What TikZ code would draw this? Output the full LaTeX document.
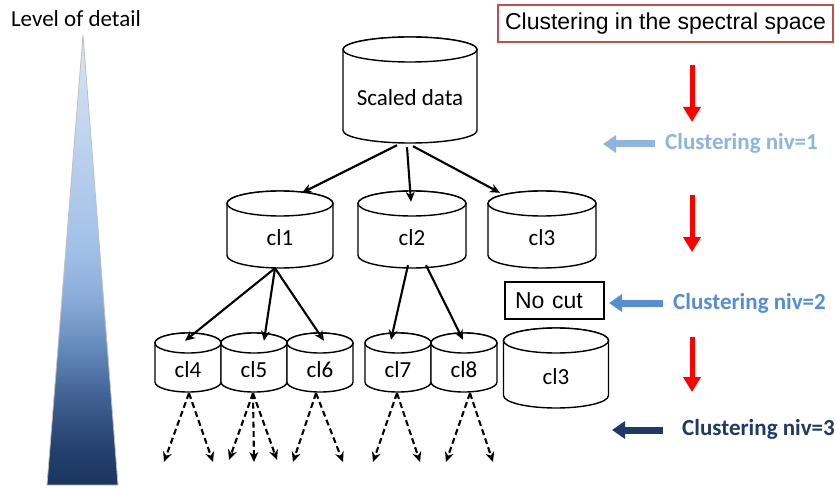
\documentclass[tikz,border=0pt]{standalone}
\usepackage{fontspec}
\setmainfont{Carlito}
\newfontfamily\arialf{Liberation Sans}
\usetikzlibrary{arrows.meta,calc}
\definecolor{redbox}{RGB}{192,80,77}
\definecolor{arrred}{RGB}{255,0,0}
\definecolor{nivone}{RGB}{142,180,227}
\definecolor{nivtwo}{RGB}{85,142,213}
\definecolor{nivthree}{RGB}{31,58,104}
\newcommand\myfs{\fontsize{23}{27}\selectfont}
\pgfdeclareverticalshading{lodshade}{100bp}{rgb(0bp)=(0.10,0.21,0.37); rgb(25bp)=(0.10,0.21,0.37); rgb(28.9bp)=(0.14,0.25,0.43); rgb(34.5bp)=(0.25,0.37,0.57); rgb(40bp)=(0.39,0.53,0.73); rgb(45.5bp)=(0.54,0.67,0.85); rgb(51bp)=(0.63,0.75,0.91); rgb(62bp)=(0.73,0.82,0.93); rgb(75bp)=(0.85,0.90,0.96); rgb(100bp)=(0.85,0.90,0.96)}
\tikzset{
  cylline/.style={draw=black, fill=white, line width=1.4pt},
  cylbox/.style={draw=none, inner sep=0pt, rectangle},
  cyllabel/.style={font=\myfs, inner sep=0pt},
  conn/.style={line width=2.1pt, -{Stealth[length=10pt,width=9pt]}},
  dconn/.style={line width=2.1pt, dash pattern=on 6pt off 3.5pt, -{Stealth[length=10pt,width=9pt]}},
  redarr/.style={arrred, line width=5pt, -{Triangle[length=15pt,width=17pt]}},
  bluearr/.style={line width=7pt, -{Triangle[length=13pt,width=17pt]}},
  lvl/.style={font=\myfs\bfseries, inner sep=0pt, anchor=west},
  titlebox/.style={draw=redbox, line width=1.6pt, font=\arialf\myfs, minimum width=335pt, minimum height=37pt, inner sep=0pt},
  nocutbox/.style={draw=black, line width=1.1pt, font=\arialf\myfs, minimum height=37pt, text width=79pt, inner xsep=10pt, inner ysep=0pt, align=left}
}
\newcommand\mycyl[8]{%
  \pgfmathsetmacro\cylrx{#4/2}%
  \pgfmathsetmacro\cylhh{#5/2}%
  \filldraw[cylline] ({#2-\cylrx},{#3+\cylhh-#6}) -- ({#2-\cylrx},{#3-\cylhh+#6}) arc[start angle=180,end angle=360,x radius=\cylrx,y radius=#6] -- ({#2+\cylrx},{#3+\cylhh-#6}) arc[start angle=0,end angle=180,x radius=\cylrx,y radius=#6] -- cycle;
  \draw[cylline] (#2,{#3+\cylhh-#6}) ellipse[x radius=\cylrx,y radius=#6];
  \node[cylbox,minimum width=#4,minimum height=#5,label={[cyllabel,yshift=-#7]center:#8}] (#1) at (#2,#3) {};
}
\begin{document}
\begin{tikzpicture}[x=1pt,y=1pt]
\useasboundingbox[fill=white] (0,0) rectangle (835,488);
% level of detail
\node[font=\myfs, inner sep=0pt] (lod) at (76,469) {Level of detail};
\shadedraw[shading=lodshade, draw=gray!50, line width=0.8pt] (83,453) -- (47,3) -- (118,3) -- cycle;
% cylinders
\mycyl{sd}{410}{398}{134}{106}{12.5}{8}{Scaled data}
\mycyl{c1}{280}{258.5}{106}{77}{12.5}{8}{cl1}
\mycyl{c2}{412}{258.5}{108}{77}{12.5}{8}{cl2}
\mycyl{c3}{542}{258.5}{108}{77}{12.5}{8}{cl3}
\mycyl{c4}{188}{125.5}{66}{59}{10}{7}{cl4}
\mycyl{c5}{254}{125.5}{66}{59}{10}{7}{cl5}
\mycyl{c6}{320}{125.5}{66}{59}{10}{7}{cl6}
\mycyl{c7}{398}{125.5}{66}{59}{10}{7}{cl7}
\mycyl{c8}{464}{125.5}{66}{59}{10}{7}{cl8}
\mycyl{c3b}{556}{120}{105}{80}{12.5}{9}{cl3}
% connectors
\draw[conn] ($(sd.south)+(-13,-2)$) -- ($(c1.north)+(22,-2)$);
\draw[conn] ($(sd.south)+(-3,-4)$) -- ($(c2.north)+(-1,-11)$);
\draw[conn] ($(sd.south)+(3,-3)$) -- ($(c3.north)+(-42,-2)$);
\draw[conn] ($(c1.south)+(-5,0)$) -- ($(c4.north)+(-3,-8)$);
\draw[conn] ($(c1.south)+(-5,0)$) -- ($(c5.north)+(10,-8)$);
\draw[conn] ($(c1.south)+(-5,0)$) -- ($(c6.north)+(4,-8)$);
\draw[conn] ($(c2.south)+(-4,3)$) -- ($(c7.north)+(-7,-7)$);
\draw[conn] ($(c2.south)+(14,3)$) -- ($(c8.north)+(-1,-7)$);
% dashed free ends
\coordinate (e4a) at (164,26);
\coordinate (e4b) at (213,26);
\coordinate (e5a) at (229,28);
\coordinate (e5b) at (254,26);
\coordinate (e5c) at (277,28);
\coordinate (e6a) at (293,26);
\coordinate (e6b) at (343,26);
\coordinate (e7a) at (373,26);
\coordinate (e7b) at (420,26);
\coordinate (e8a) at (446,26);
\coordinate (e8b) at (493,26);
\draw[dconn] ($(c4.south)+(1,-1)$) -- (e4a);
\draw[dconn] ($(c4.south)+(1,-1)$) -- (e4b);
\draw[dconn] ($(c5.south)+(-1,-1)$) -- (e5a);
\draw[dconn] ($(c5.south)+(-1,-1)$) -- (e5b);
\draw[dconn] ($(c5.south)+(-1,-1)$) -- (e5c);
\draw[dconn] ($(c6.south)+(-4,-1)$) -- (e6a);
\draw[dconn] ($(c6.south)+(-4,-1)$) -- (e6b);
\draw[dconn] ($(c7.south)+(-1,-1)$) -- (e7a);
\draw[dconn] ($(c7.south)+(-1,-1)$) -- (e7b);
\draw[dconn] ($(c8.south)+(6,-1)$) -- (e8a);
\draw[dconn] ($(c8.south)+(6,-1)$) -- (e8b);
% right side
\node[titlebox] (title) at (665.5,464.5) {Clustering in the spectral space};
\node[nocutbox] (nc) at (554.5,187.5) {No cut};
\coordinate (r1s) at (692,423); \coordinate (r1e) at (692,366);
\coordinate (r2s) at (692,293); \coordinate (r2e) at (692,236);
\coordinate (r3s) at (692,151); \coordinate (r3e) at (692,96);
\draw[redarr] (r1s) -- (r1e);
\draw[redarr] (r2s) -- (r2e);
\draw[redarr] (r3s) -- (r3e);
\node[lvl, text=nivone] (l1) at (665,345) {Clustering niv=1};
\node[lvl, text=nivtwo] (l2) at (673,185) {Clustering niv=2};
\node[lvl, text=nivthree] (l3) at (682,59) {Clustering niv=3};
\draw[bluearr, nivone] ($(l1.west)+(-10,-1)$) -- ($(l1.west)+(-62,-1)$);
\draw[bluearr, nivtwo] ($(l2.west)+(-10,0)$) -- ($(l2.west)+(-64,0)$);
\draw[bluearr, nivthree] ($(l3.west)+(-19,-1)$) -- ($(l3.west)+(-70,-1)$);
\end{tikzpicture}
\end{document}
